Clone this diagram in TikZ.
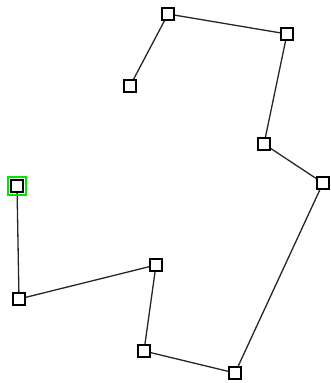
\documentclass[tikz,border=0pt]{standalone}
\begin{document}
\begin{tikzpicture}[x=1pt,y=-1pt,
  pt/.style={draw=black,fill=white,line width=1.4pt,minimum size=12pt,inner sep=0pt,outer sep=0pt,rectangle},
  sel/.style={draw={rgb,255:red,0;green,230;blue,0},line width=1.6pt,minimum size=18pt,inner sep=0pt,rectangle},
  edge/.style={draw=black!85,line width=1.3pt}]
\useasboundingbox (0,0) rectangle (331,383);
\coordinate (c1) at (130,86);
\coordinate (c2) at (168,14);
\coordinate (c3) at (287,34);
\coordinate (c4) at (264,144);
\coordinate (c5) at (323,183);
\coordinate (c6) at (235,373);
\coordinate (c7) at (144,351);
\coordinate (c8) at (156,265);
\coordinate (c9) at (19,299);
\coordinate (c10) at (17,186);
\draw[edge] (c1) -- (c2) -- (c3) -- (c4) -- (c5) -- (c6) -- (c7) -- (c8) -- (c9) -- (c10);
\node[sel] (s10) at (c10) {};
\foreach \i in {1,...,10} { \node[pt] (n\i) at (c\i) {}; }
\end{tikzpicture}
\end{document}
